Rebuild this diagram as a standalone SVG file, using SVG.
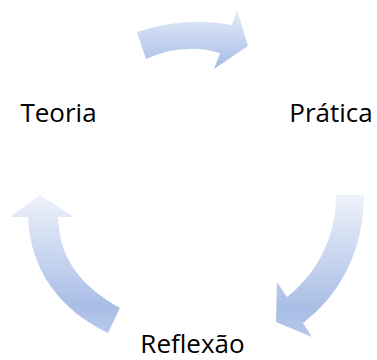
<svg xmlns="http://www.w3.org/2000/svg" width="377" height="360" viewBox="0 0 377 360">
  <defs>
    <linearGradient id="g" x1="0" y1="0" x2="0" y2="1">
      <stop offset="0" stop-color="#eef2fa"/>
      <stop offset="0.8" stop-color="#a9bee6"/>
      <stop offset="1" stop-color="#b7c8ea"/>
    </linearGradient>
    <linearGradient id="gt" x1="0" y1="0" x2="0" y2="1">
      <stop offset="0" stop-color="#e6ecf8"/>
      <stop offset="1" stop-color="#a6bce6"/>
    </linearGradient>
  </defs>
  <style>
    .lbl { font-family: "Open Sans", "Liberation Sans", sans-serif; font-size: 26px; fill: #000; text-anchor: middle; }
    .arr { stroke: none; }
  </style>
  <rect width="377" height="360" fill="#fff"/>
  <g id="connectors">
    <path class="arr" fill="url(#gt)" d="M137,32 Q185,16 232,25 L237,10 L248,46 L214,69 L220,53 Q183,42 146,59 Z"/>
    <path class="arr" fill="url(#g)" d="M336,195 L364,195 C364,250 340,295 303,323 L312,337 L276,322 L277,282 L287,297 C315,275 336,240 336,195 Z"/>
    <path class="arr" fill="url(#g)" d="M40,195 L74,217 L58,217 C60,260 80,285 120,308 L108,333 C60,310 30,270 28,217 L10,217 Z"/>
  </g>
  <g id="node-teoria"><text class="lbl" x="58.5" y="122">Teoria</text></g>
  <g id="node-pratica"><text class="lbl" x="331" y="122">Prática</text></g>
  <g id="node-reflexao"><text class="lbl" x="192.5" y="353">Reflexão</text></g>
</svg>
